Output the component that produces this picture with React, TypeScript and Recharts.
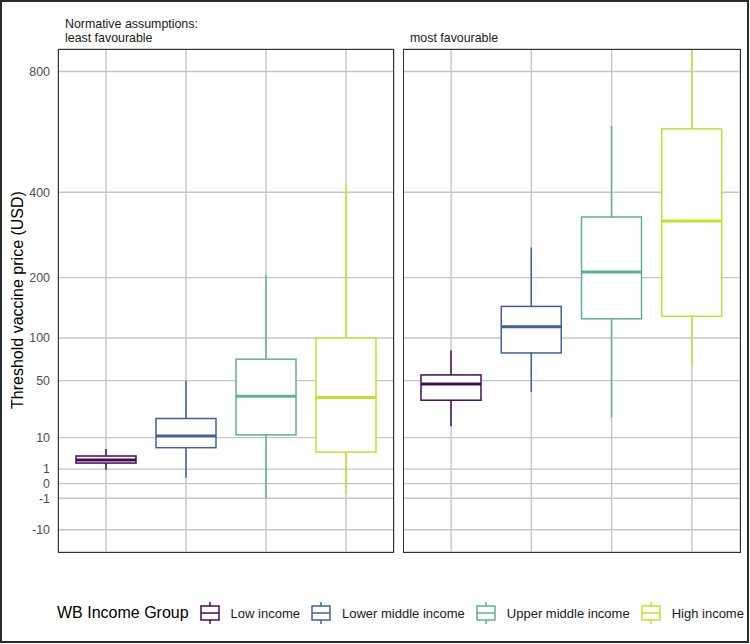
import { ComposedChart, Bar, XAxis, YAxis, CartesianGrid } from 'recharts';

const FONT = '"Liberation Sans", Arial, Helvetica, sans-serif';

const GROUPS = ['Low income', 'Lower middle income', 'Upper middle income', 'High income'];
const COLORS = ['#440d57', '#41609a', '#5fb38a', '#c5e02b'];
const Y_TICKS = [-10, -1, 0, 1, 10, 50, 100, 200, 400, 800];
const Y_DOMAIN = [-22, 890];

// Normative assumptions: least favourable
const LEAST_MIN = [0.9, 0.17, -1.0, -0.5];
const LEAST_Q1 = [2.0, 6.1, 11.2, 4.7];
const LEAST_MED = [2.65, 10.7, 36, 35];
const LEAST_Q3 = [3.6, 20, 73, 100];
const LEAST_MAX = [5.7, 50, 205, 423];

// most favourable
const MOST_MIN = [15.5, 39.6, 20.5, 65.6];
const MOST_Q1 = [32.8, 80.5, 128, 132];
const MOST_MED = [46.8, 116, 211, 325];
const MOST_Q3 = [55.7, 148, 335, 593];
const MOST_MAX = [83.4, 263, 603, 890];

const buildRows = (mins: number[], q1s: number[], meds: number[], q3s: number[], maxs: number[]) =>
  GROUPS.map((g, i) => ({
    group: g,
    min: mins[i],
    q1: q1s[i],
    median: meds[i],
    q3: q3s[i],
    max: maxs[i],
    color: COLORS[i],
  }));

const leastRows = buildRows(LEAST_MIN, LEAST_Q1, LEAST_MED, LEAST_Q3, LEAST_MAX);
const mostRows = buildRows(MOST_MIN, MOST_Q1, MOST_MED, MOST_Q3, MOST_MAX);

// same transform as the sqrt scale (signed), used to place quartiles between the whisker ends
const sgnSqrt = (v: number) => (v < 0 ? -Math.sqrt(-v) : Math.sqrt(v));

const BoxShape = (props: any) => {
  const { x, y, width, height, payload } = props;
  if (!payload) return null;
  const top = Math.min(y, y + height);
  const bottom = Math.max(y, y + height);
  const sTop = sgnSqrt(payload.max);
  const sBot = sgnSqrt(payload.min);
  const toY = (v: number) => bottom - ((sgnSqrt(v) - sBot) / (sTop - sBot)) * (bottom - top);
  const cx = x + width / 2;
  const yq1 = toY(payload.q1);
  const yq3 = toY(payload.q3);
  const ymed = toY(payload.median);
  const c = payload.color;
  return (
    <g>
      <line x1={cx} x2={cx} y1={top} y2={yq3} stroke={c} strokeWidth={1.5} />
      <line x1={cx} x2={cx} y1={yq1} y2={bottom} stroke={c} strokeWidth={1.5} />
      <rect x={x} y={yq3} width={width} height={yq1 - yq3} fill="#fff" stroke={c} strokeWidth={1.5} />
      <line x1={x} x2={x + width} y1={ymed} y2={ymed} stroke={c} strokeWidth={3} />
    </g>
  );
};

const Panel = ({ rows, width, showAxis }: { rows: any[]; width: number; showAxis: boolean }) => (
  <ComposedChart
    width={width}
    height={560}
    data={rows}
    margin={{ top: 49, right: showAxis ? 6 : 8, bottom: 8, left: showAxis ? 8 : 0 }}
    barSize={60}
  >
    <CartesianGrid stroke="#c6c6c6" strokeWidth={1.4} />
    <XAxis dataKey="group" type="category" hide interval={0} padding={{ left: 8, right: 8 }} />
    <YAxis
      type="number"
      scale="sqrt"
      domain={Y_DOMAIN}
      allowDataOverflow
      ticks={Y_TICKS}
      interval={0}
      hide={!showAxis}
      width={50}
      axisLine={false}
      tickLine={false}
      tick={{ fill: '#4d4d4d', fontSize: 12.4, fontFamily: FONT }}
    />
    <Bar dataKey={(d: any) => [d.min, d.max]} shape={<BoxShape />} isAnimationActive={false} />
  </ComposedChart>
);

const LegendGlyph = ({ color }: { color: string }) => (
  <svg width={20} height={24} style={{ display: 'block' }}>
    <line x1={10} x2={10} y1={1} y2={5} stroke={color} strokeWidth={1.5} />
    <line x1={10} x2={10} y1={19} y2={23} stroke={color} strokeWidth={1.5} />
    <rect x={1} y={5} width={18} height={14} fill="#fff" stroke={color} strokeWidth={1.5} />
    <line x1={1} x2={19} y1={12} y2={12} stroke={color} strokeWidth={1.5} />
  </svg>
);

export default function App() {
  return (
    <div style={{ position: 'absolute', left: 0, top: 0, width: 750, height: 644, background: '#fff', fontFamily: FONT }}>
      <div style={{ position: 'absolute', left: 0, top: 0 }}>
        <Panel rows={leastRows} width={400} showAxis />
      </div>
      <div style={{ position: 'absolute', left: 403, top: 0 }}>
        <Panel rows={mostRows} width={345} showAxis={false} />
      </div>

      {/* panel borders */}
      <div style={{ position: 'absolute', left: 58, top: 49, width: 336, height: 504, border: '1px solid #333', boxSizing: 'border-box' }} />
      <div style={{ position: 'absolute', left: 403, top: 49, width: 338, height: 504, border: '1px solid #333', boxSizing: 'border-box' }} />

      {/* strip labels */}
      <div style={{ position: 'absolute', left: 65, top: 17.4, fontSize: 12.4, lineHeight: '14px', color: '#1a1a1a' }}>
        Normative assumptions:
        <br />
        least favourable
      </div>
      <div style={{ position: 'absolute', left: 410, top: 31.4, fontSize: 12.4, lineHeight: '14px', color: '#1a1a1a' }}>
        most favourable
      </div>

      {/* y axis title */}
      <div
        style={{
          position: 'absolute',
          left: 18,
          top: 300,
          transform: 'translate(-50%, -50%) rotate(-90deg)',
          whiteSpace: 'nowrap',
          fontSize: 16,
          color: '#000',
        }}
      >
        Threshold vaccine price (USD)
      </div>

      {/* legend */}
      <div style={{ position: 'absolute', left: 57, top: 601, height: 24, display: 'flex', alignItems: 'center', whiteSpace: 'nowrap' }}>
        <span style={{ fontSize: 16, color: '#000', marginRight: 11 }}>WB Income Group</span>
        {GROUPS.map((g, i) => (
          <div key={g} style={{ display: 'flex', alignItems: 'center', marginRight: 11 }}>
            <LegendGlyph color={COLORS[i]} />
            <span style={{ fontSize: 13, color: '#1a1a1a', marginLeft: 11 }}>{g}</span>
          </div>
        ))}
      </div>

      {/* outer frame */}
      <div style={{ position: 'absolute', left: 0, top: 0, width: 749, height: 643, border: '2px solid #2b2b2b', boxSizing: 'border-box', pointerEvents: 'none' }} />
    </div>
  );
}
